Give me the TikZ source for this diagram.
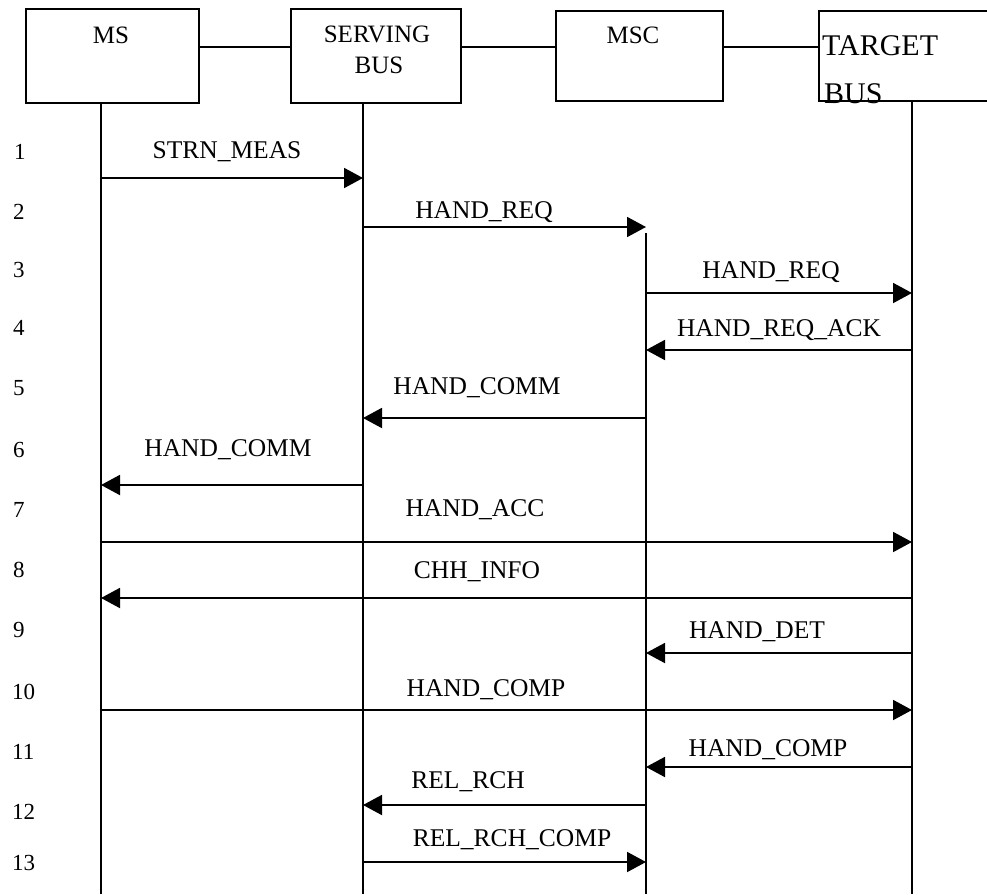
\documentclass[tikz,border=0pt]{standalone}
\usepackage{fontspec}
\setmainfont{Liberation Serif}
\usetikzlibrary{arrows.meta}
\begin{document}
\begin{tikzpicture}[x=1pt,y=-1pt,
  box/.style={draw,line width=1.6pt,inner sep=0pt,anchor=north west},
  life/.style={line width=1.8pt},
  link/.style={line width=1.6pt},
  msg/.style={line width=1.9pt,-{Triangle[length=19pt,width=20pt]}},
  lbl/.style={font=\fontsize{25.5}{28}\selectfont,inner sep=0pt},
  num/.style={font=\fontsize{23}{26}\selectfont,inner sep=0pt,anchor=west},
  boxtxt/.style={font=\fontsize{25}{28}\selectfont,inner sep=0pt},
  bigtxt/.style={font=\fontsize{30}{33}\selectfont,inner sep=0pt,anchor=base west}]
\useasboundingbox (0,0) rectangle (987,894);
% boxes
\node[box,minimum width=173pt,minimum height=94pt] (ms) at (25,8) {};
\node[box,minimum width=170pt,minimum height=94pt] (sb) at (290,8) {};
\node[box,minimum width=167pt,minimum height=90pt] (msc) at (555,10) {};
\node[box,minimum width=200pt,minimum height=90pt] (tb) at (818,10) {};
\node[boxtxt] (tms) at (111,35) {MS};
\node[boxtxt] (tsb1) at (377,34) {SERVING};
\node[boxtxt] (tsb2) at (379,65) {BUS};
\node[boxtxt] (tmsc) at (633,35) {MSC};
\node[bigtxt] (ttb1) at (822,55) {TARGET};
\node[bigtxt] (ttb2) at (824,103) {BUS};
% links between boxes
\coordinate (k) at (0,47);
\draw[link] (ms.east |- k) -- (sb.west |- k);
\draw[link] (sb.east |- k) -- (msc.west |- k);
\draw[link] (msc.east |- k) -- (tb.west |- k);
% lifelines
\coordinate (L1) at (101,102);
\coordinate (L2) at (363,102);
\coordinate (L3) at (646,233);
\coordinate (L4) at (912,100);
\coordinate (E1) at (101,894);
\coordinate (E2) at (363,894);
\coordinate (E3) at (646,894);
\coordinate (E4) at (912,894);
\draw[life] (L1) -- (E1);
\draw[life] (L2) -- (E2);
\draw[life] (L3) -- (E3);
\draw[life] (L4) -- (E4);
% message rows
\coordinate (y1) at (0,178);
\coordinate (y2) at (0,227);
\coordinate (y3) at (0,293);
\coordinate (y4) at (0,350);
\coordinate (y5) at (0,418);
\coordinate (y6) at (0,485);
\coordinate (y7) at (0,542);
\coordinate (y8) at (0,598);
\coordinate (y9) at (0,653);
\coordinate (y10) at (0,710);
\coordinate (y11) at (0,767);
\coordinate (y12) at (0,805);
\coordinate (y13) at (0,862);
\draw[msg] (L1 |- y1) -- (L2 |- y1);
\draw[msg] (L2 |- y2) -- (L3 |- y2);
\draw[msg] (L3 |- y3) -- (L4 |- y3);
\draw[msg] (L4 |- y4) -- (L3 |- y4);
\draw[msg] (L3 |- y5) -- (L2 |- y5);
\draw[msg] (L2 |- y6) -- (L1 |- y6);
\draw[msg] (L1 |- y7) -- (L4 |- y7);
\draw[msg] (L4 |- y8) -- (L1 |- y8);
\draw[msg] (L4 |- y9) -- (L3 |- y9);
\draw[msg] (L1 |- y10) -- (L4 |- y10);
\draw[msg] (L4 |- y11) -- (L3 |- y11);
\draw[msg] (L3 |- y12) -- (L2 |- y12);
\draw[msg] (L2 |- y13) -- (L3 |- y13);
% message labels
\node[lbl] (m1) at (227,152) {STRN\_MEAS};
\node[lbl] (m2) at (484,212) {HAND\_REQ};
\node[lbl] (m3) at (771,272) {HAND\_REQ};
\node[lbl] (m4) at (779,330) {HAND\_REQ\_ACK};
\node[lbl] (m5) at (477,388) {HAND\_COMM};
\node[lbl] (m6) at (228,450) {HAND\_COMM};
\node[lbl] (m7) at (475,510) {HAND\_ACC};
\node[lbl] (m8) at (477,572) {CHH\_INFO};
\node[lbl] (m9) at (757,632) {HAND\_DET};
\node[lbl] (m10) at (486,690) {HAND\_COMP};
\node[lbl] (m11) at (768,750) {HAND\_COMP};
\node[lbl] (m12) at (468,782) {REL\_RCH};
\node[lbl] (m13) at (512,840) {REL\_RCH\_COMP};
% row numbers
\node[num] (n1) at (14,152) {1};
\node[num] (n2) at (13,212) {2};
\node[num] (n3) at (13,270) {3};
\node[num] (n4) at (13,328) {4};
\node[num] (n5) at (13,388) {5};
\node[num] (n6) at (13,450) {6};
\node[num] (n7) at (13,510) {7};
\node[num] (n8) at (13,570) {8};
\node[num] (n9) at (13,630) {9};
\node[num] (n10) at (12,692) {10};
\node[num] (n11) at (12,752) {11};
\node[num] (n12) at (12,812) {12};
\node[num] (n13) at (12,863) {13};
\end{tikzpicture}
\end{document}
